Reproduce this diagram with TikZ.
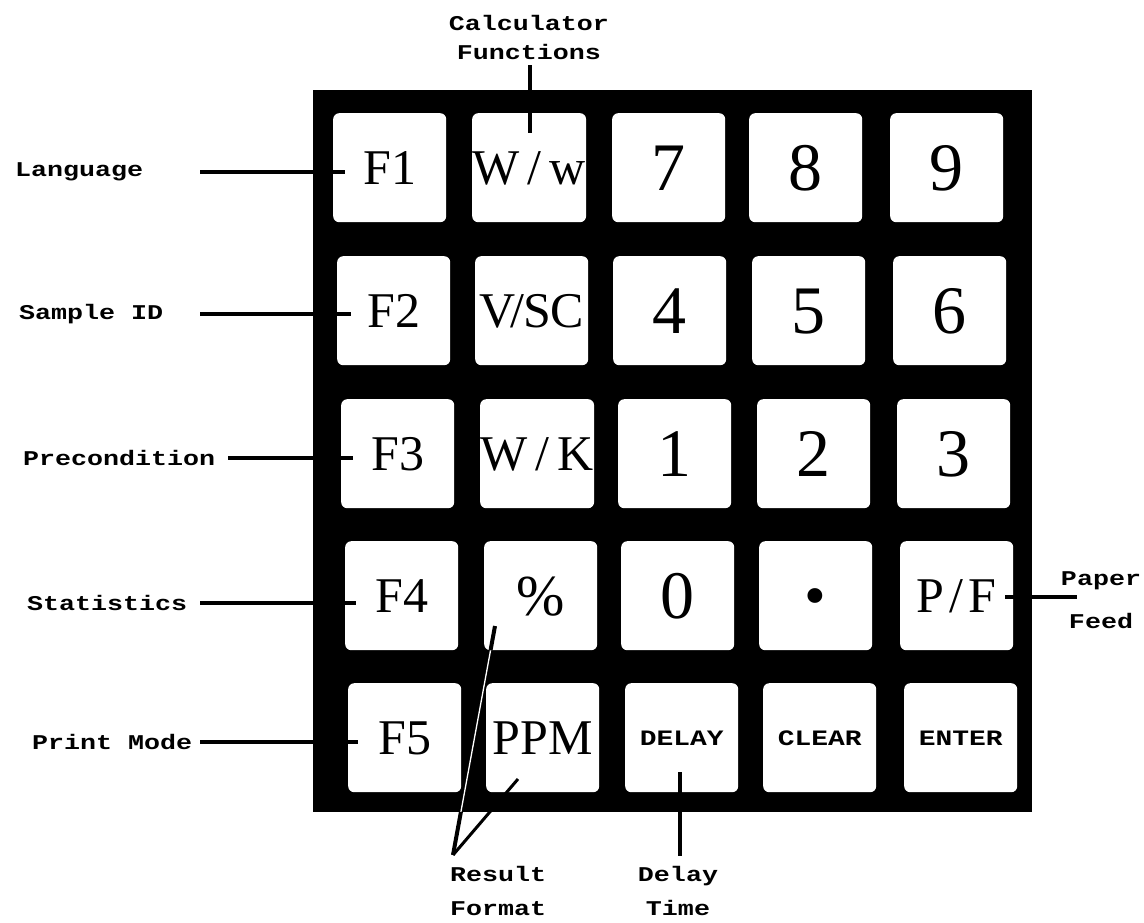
\documentclass[tikz,border=0pt]{standalone}
\usepackage{fontspec}
\usetikzlibrary{calc}
\newfontfamily\lblfont[FakeStretch=1.27]{Liberation Mono}
\newfontfamily\keyfont{Liberation Serif}
\begin{document}
\begin{tikzpicture}[x=1pt,y=-1pt,
  lbl/.style={font=\lblfont\bfseries\fontsize{21}{29}\selectfont, inner sep=0pt, align=center},
  keybox/.style={fill=white, rounded corners=6pt, minimum width=113pt, minimum height=109pt,
    inner sep=0pt, anchor=north west, text height=33pt, text depth=0pt,
    font=\keyfont\fontsize{50}{50}\selectfont},
  digitkey/.style={keybox, text height=46pt, font=\keyfont\fontsize{68}{68}\selectfont},
  pctkey/.style={keybox, text height=39pt, font=\keyfont\fontsize{58}{58}\selectfont},
  dotkey/.style={keybox, text height=42pt, font=\keyfont\fontsize{62}{62}\selectfont},
  wordkey/.style={keybox, text height=15pt, font=\lblfont\bfseries\fontsize{22}{22}\selectfont},
  leader/.style={line width=3.6pt},
  core/.style={white, line width=1.3pt}
]
\useasboundingbox (0,0) rectangle (1144,922);
\fill[white] (0,0) rectangle (1144,922);

% keypad body
\fill[black] (313,90) rectangle (1032,812);

% the "Result Format" leader to the % key shows as a thin white line on the body
\coordinate (rfApex) at (453,855);
\coordinate (rfPct)  at (495,626);
\draw[core] (rfApex) -- (rfPct);

% row 1
\node[keybox]   (k11) at (333,113) {F1};
\node[keybox]   (k12) at (472,113) {W\,/\,w};
\node[digitkey] (k13) at (612,113) {7};
\node[digitkey] (k14) at (749,113) {8};
\node[digitkey] (k15) at (890,113) {9};
% row 2
\node[keybox]   (k21) at (337,256) {F2};
\node[keybox]   (k22) at (475,256) {V\kern-5pt/\kern-1pt SC};
\node[digitkey] (k23) at (613,256) {4};
\node[digitkey] (k24) at (752,256) {5};
\node[digitkey] (k25) at (893,256) {6};
% row 3
\node[keybox]   (k31) at (341,399) {F3};
\node[keybox]   (k32) at (480,399) {W\,/\,K};
\node[digitkey] (k33) at (618,399) {1};
\node[digitkey] (k34) at (757,399) {2};
\node[digitkey] (k35) at (897,399) {3};
% row 4
\node[keybox]   (k41) at (345,541) {F4};
\node[pctkey]   (k42) at (484,541) {\%};
\node[digitkey] (k43) at (621,541) {0};
\node[dotkey]   (k44) at (759,541) {•};
\node[keybox]   (k45) at (900,541) {P\kern5pt/\kern5pt F};
% row 5
\node[keybox]   (k51) at (348,683) {F5};
\node[keybox]   (k52) at (486,683) {PPM};
\node[wordkey]  (k53) at (625,683) {DELAY};
\node[wordkey]  (k54) at (763,683) {CLEAR};
\node[wordkey]  (k55) at (904,683) {ENTER};

% left-hand labels and their leaders
\node[lbl, anchor=west] (lang)  at (15,172) {Language};
\node[lbl, anchor=west] (samp)  at (19,314) {Sample ID};
\node[lbl, anchor=west] (prec)  at (23,458) {Precondition};
\node[lbl, anchor=west] (stat)  at (27,603) {Statistics};
\node[lbl, anchor=west] (pmode) at (32,742) {Print Mode};
\coordinate (langL)  at (200,172);
\coordinate (sampL)  at (200,314);
\coordinate (precL)  at (228,458);
\coordinate (statL)  at (200,603);
\coordinate (pmodeL) at (200,742);
\draw[leader] (langL)  -- ([xshift=12pt]langL -| k11.west);
\draw[leader] (sampL)  -- ([xshift=14pt]sampL -| k21.west);
\draw[leader] (precL)  -- ([xshift=12pt]precL -| k31.west);
\draw[leader] (statL)  -- ([xshift=11pt]statL -| k41.west);
\draw[leader] (pmodeL) -- ([xshift=10pt]pmodeL -| k51.west);

% top label
\node[lbl] (calc) at (529,37) {Calculator\\Functions};
\coordinate (calcB) at (530,65);
\draw[leader] (calcB) -- ($(k12.north west)+(58,20)$);

% right label
\node[lbl, font=\lblfont\bfseries\fontsize{21}{43}\selectfont] (paper) at (1101,600) {Paper\\Feed};
\coordinate (paperL) at (1077,597);
\draw[leader] ([xshift=-8pt]paperL -| k45.east) -- (paperL);

% bottom labels
\node[lbl, font=\lblfont\bfseries\fontsize{21}{34}\selectfont, align=left, anchor=north west] (rfmt) at (450,866) {Result\\Format};
\node[lbl, font=\lblfont\bfseries\fontsize{21}{34}\selectfont, anchor=north] (dtime) at (678,866) {Delay\\Time};
\begin{scope}
  % black only below the body and on the % key
  \clip (0,812) rectangle (1144,922) (k42.south west) rectangle (k42.north east);
  \draw[line width=4pt] (rfApex) -- (rfPct);
\end{scope}
\draw[line width=3pt] (rfApex) -- ($(k52.north west)+(32,96)$);
\coordinate (dtB) at (680,856);
\draw[leader] ($(k53.north west)+(55,89)$) -- (dtB);
\end{tikzpicture}
\end{document}
